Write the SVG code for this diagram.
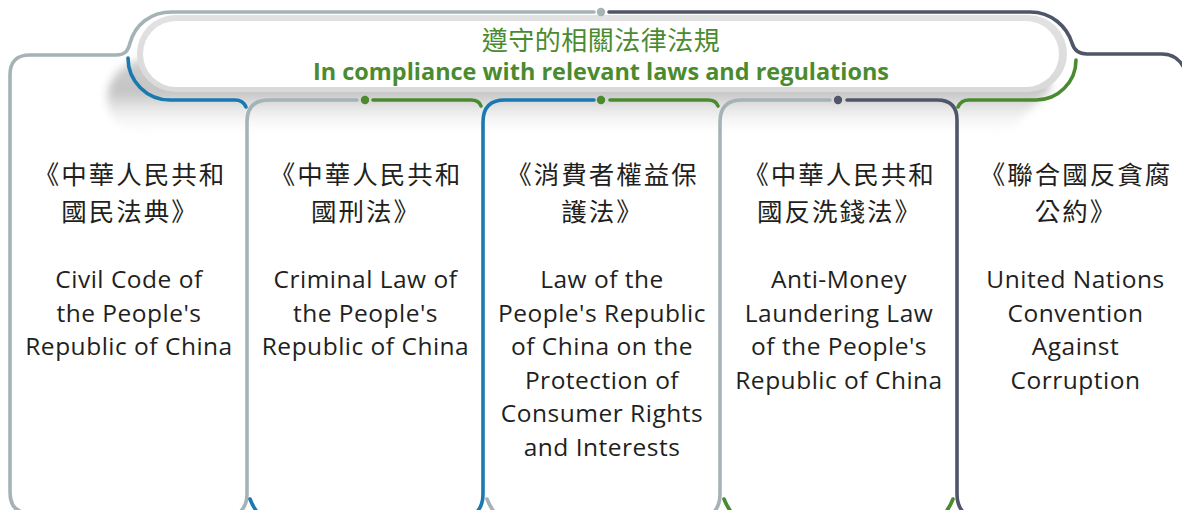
<svg xmlns="http://www.w3.org/2000/svg" width="1182" height="510" viewBox="0 0 1182 510">
<style>
.ln{fill:none;stroke-width:3.6;stroke-linecap:round;stroke-linejoin:round}
.gray{stroke:#a5b3b6}
.navy{stroke:#4f566a}
.blue{stroke:#1a79b0}
.green{stroke:#4b8b2f}
.cn{font-family:"Noto Sans CJK TC","Noto Sans CJK SC",sans-serif;font-size:25.5px;letter-spacing:2px;fill:#231f20;text-anchor:middle}
.en{font-family:"Open Sans","Noto Sans",sans-serif;font-size:24.5px;letter-spacing:0.5px;fill:#231f20;text-anchor:middle}
.tcn{font-family:"Noto Sans CJK TC","Noto Sans CJK SC",sans-serif;font-size:26px;letter-spacing:0.5px;fill:#4b8b2f;text-anchor:middle}
.ten{font-family:"Open Sans","Noto Sans",sans-serif;font-size:23px;font-weight:bold;fill:#4b8b2f;text-anchor:middle}
</style>
<defs>
<linearGradient id="sh" x1="0" y1="55" x2="0" y2="138" gradientUnits="userSpaceOnUse">
<stop offset="0" stop-color="#d0d0d0"/>
<stop offset="0.45" stop-color="#c4c4c4"/>
<stop offset="1" stop-color="#ffffff" stop-opacity="0"/>
</linearGradient>
<linearGradient id="ring" x1="0" y1="15" x2="0" y2="92" gradientUnits="userSpaceOnUse">
<stop offset="0" stop-color="#e2e2e2"/>
<stop offset="1" stop-color="#d9d9d9"/>
</linearGradient>
<filter id="blur" x="-10%" y="-50%" width="120%" height="200%">
<feGaussianBlur stdDeviation="4"/>
</filter>
</defs>
<rect width="1182" height="510" fill="#ffffff"/>

<g id="header">
<path d="M150,58 L1050,58 L1050,90 L1003,136 L150,136 C118,136 104,112 108,92 C111,74 126,60 150,58 Z" fill="url(#sh)" filter="url(#blur)"/>
<rect x="137" y="15" width="930" height="77" rx="38.5" fill="url(#ring)"/>
<rect x="143" y="21" width="916" height="66" rx="33" fill="#ffffff"/>
<text class="tcn" x="601" y="50">遵守的相關法律法規</text>
<text class="ten" x="601" y="80" textLength="576" lengthAdjust="spacingAndGlyphs">In compliance with relevant laws and regulations</text>
</g>

<g id="connectors">
<path class="ln gray" d="M26,513 Q10,511 10,492 L10,75 Q10,55 30,55 L116,55 C125,55 128,51 130,43 C135,25 150,12 172,12 L594,12"/>
<circle cx="601" cy="12" r="4.2" fill="#a5b3b6"/>
<path class="ln navy" d="M609,12 L1030,12 C1052,12 1067,27 1072,43 C1074,50 1078,54 1087,54 L1162,54 C1175,54 1182,62 1186,72 L1188,90"/>
<path class="ln blue" d="M128,58 A42,42 0 0 0 170,100 L235,100 Q243,100 246,107"/>
<path class="ln gray" d="M357,100 L269,100 Q247,100 247,122 L247,494 Q247,506 239,513"/>
<circle cx="365" cy="100" r="4.2" fill="#4b8b2f"/>
<path class="ln green" d="M373,100 L471,100 Q479,100 481,106"/>
<path class="ln blue" d="M594,100 L505,100 Q483,100 483,122 L483,494 Q483,506 476,513"/>
<circle cx="601" cy="100" r="4.2" fill="#4b8b2f"/>
<path class="ln green" d="M610,100 L708,100 Q716,100 718,106"/>
<path class="ln gray" d="M830,100 L742,100 Q720,100 720,122 L720,494 Q720,506 713,513"/>
<circle cx="838" cy="100" r="4.2" fill="#4f566a"/>
<path class="ln navy" d="M847,100 L937,100 Q957,100 957,120 L957,494 Q957,506 964,513"/>
<path class="ln green" d="M958,107 Q961,100 969,100 L1036,100 A40,40 0 0 0 1076,60"/>
<path class="ln blue" d="M250,499 Q253,507 258,513"/>
<path class="ln gray" d="M487,499 Q490,507 495,513"/>
<path class="ln green" d="M724,499 Q727,507 732,513"/>
<path class="ln green" d="M953,499 Q950,507 945,513"/>
</g>

<g id="col1">
<text class="cn" x="130" y="184">《中華人民共和</text>
<text class="cn" x="130" y="221">國民法典》</text>
<text class="en" x="129" y="288">Civil Code of</text>
<text class="en" x="129" y="321.5">the People's</text>
<text class="en" x="129" y="355">Republic of China</text>
</g>

<g id="col2">
<text class="cn" x="366" y="184">《中華人民共和</text>
<text class="cn" x="366" y="221">國刑法》</text>
<text class="en" x="365.5" y="288">Criminal Law of</text>
<text class="en" x="365.5" y="321.5">the People's</text>
<text class="en" x="365.5" y="355">Republic of China</text>
</g>

<g id="col3">
<text class="cn" x="602.5" y="184">《消費者權益保</text>
<text class="cn" x="602.5" y="221">護法》</text>
<text class="en" x="602" y="288">Law of the</text>
<text class="en" x="602" y="321.5">People's Republic</text>
<text class="en" x="602" y="355">of China on the</text>
<text class="en" x="602" y="388.5">Protection of</text>
<text class="en" x="602" y="422">Consumer Rights</text>
<text class="en" x="602" y="455.5">and Interests</text>
</g>

<g id="col4">
<text class="cn" x="839.5" y="184">《中華人民共和</text>
<text class="cn" x="839.5" y="221">國反洗錢法》</text>
<text class="en" x="839" y="288">Anti-Money</text>
<text class="en" x="839" y="321.5">Laundering Law</text>
<text class="en" x="839" y="355">of the People's</text>
<text class="en" x="839" y="388.5">Republic of China</text>
</g>

<g id="col5">
<text class="cn" x="1076" y="184">《聯合國反貪腐</text>
<text class="cn" x="1076" y="221">公約》</text>
<text class="en" x="1075.5" y="288">United Nations</text>
<text class="en" x="1075.5" y="321.5">Convention</text>
<text class="en" x="1075.5" y="355">Against</text>
<text class="en" x="1075.5" y="388.5">Corruption</text>
</g>
</svg>
